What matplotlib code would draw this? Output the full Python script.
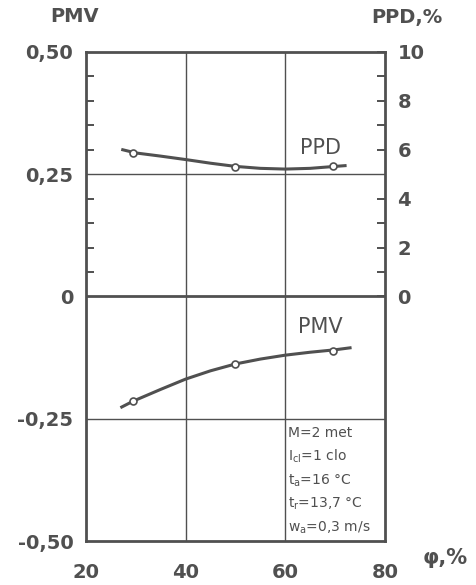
import numpy as np
import matplotlib.pyplot as plt
from matplotlib.ticker import FixedLocator

# measured points (relative humidity, %)
rh_points = [29.5, 50, 69.5]
pmv_points = [-0.214, -0.138, -0.111]
ppd_points = [5.87, 5.3, 5.35]

# faired curves
pmv_curve_x = [27.2, 29.5, 35, 40, 45, 50, 55, 60, 65, 70, 73]
pmv_curve_y = [-0.226, -0.214, -0.19, -0.169, -0.152, -0.138, -0.128, -0.12, -0.114, -0.109, -0.105]
ppd_curve_x = [27.4, 30, 35, 40, 45, 50, 55, 60, 65, 70, 72]
ppd_curve_y = [6.0, 5.87, 5.74, 5.6, 5.45, 5.32, 5.24, 5.21, 5.24, 5.32, 5.35]

pmv_ticks = [-0.5, -0.25, 0, 0.25, 0.5]
pmv_labels = ['-0,50', '-0,25', '0', '0,25', '0,50']
ppd_ticks = [0, 2, 4, 6, 8, 10]
x_ticks = [20, 40, 60, 80]

conditions = ['M=2 met',
              r'$\mathregular{I_{cl}}$=1 clo',
              r'$\mathregular{t_a}$=16 °C',
              r'$\mathregular{t_r}$=13,7 °C',
              r'$\mathregular{w_a}$=0,3 m/s']

ink = '#505050'
plt.rcParams['font.family'] = 'DejaVu Sans'

fig = plt.figure(figsize=(4.77, 5.85), dpi=100)
ax = fig.add_axes([0.180, 0.0752, 0.627, 0.836])

ax.set_xlim(20, 80)
ax.set_ylim(-0.5, 0.5)
for s in ax.spines.values():
    s.set_linewidth(2.0)
    s.set_color(ink)

ax.set_xticks(x_ticks)
ax.set_xticklabels([str(v) for v in x_ticks], fontsize=14, fontweight='bold', color=ink)
ax.set_yticks(pmv_ticks)
ax.set_yticklabels(pmv_labels, fontsize=14, fontweight='bold', color=ink)
ax.tick_params(axis='x', length=0, pad=16)
ax.tick_params(axis='y', which='major', length=0, pad=9)
ax.yaxis.set_minor_locator(FixedLocator([0.05, 0.1, 0.15, 0.2, 0.3, 0.35, 0.4, 0.45]))
ax.tick_params(axis='y', which='minor', direction='in', length=6, width=1.4, color=ink)

# grid
for gx in [40, 60]:
    ax.axvline(gx, color=ink, lw=1.0, zorder=1)
for gy in [-0.25, 0.25]:
    ax.axhline(gy, color=ink, lw=1.0, zorder=1)
ax.axhline(0, color=ink, lw=2.0, zorder=1)

# PPD on the right axis (0..10 covers the upper half)
ax2 = ax.twinx()
ax2.set_ylim(-10, 10)
ax2.set_yticks(ppd_ticks)
ax2.set_yticklabels([str(v) for v in ppd_ticks], fontsize=14, fontweight='bold', color=ink)
ax2.yaxis.set_minor_locator(FixedLocator([1, 3, 7, 9]))
ax2.tick_params(axis='y', which='both', direction='in', length=6, width=1.4, color=ink, pad=9)
for s in ax2.spines.values():
    s.set_visible(False)

ax.plot(pmv_curve_x, pmv_curve_y, color=ink, lw=2.2, zorder=3)
ax.plot(rh_points, pmv_points, 'o', ms=5, mfc='white', mec=ink, mew=1.2, zorder=4)
ax2.plot(ppd_curve_x, ppd_curve_y, color=ink, lw=2.2, zorder=3)
ax2.plot(rh_points, ppd_points, 'o', ms=5, mfc='white', mec=ink, mew=1.2, zorder=4)

ax.text(62.9, 0.304, 'PPD', fontsize=15, color=ink, va='center', ha='left')
ax.text(62.5, -0.062, 'PMV', fontsize=15, color=ink, va='center', ha='left')

for i, line in enumerate(conditions):
    ax.text(60.5, -0.279 - i * 0.0485, line, fontsize=10, color=ink,
            va='center', ha='left')

fig.text(75 / 477, 1 - 17 / 585, 'PMV', fontsize=14, fontweight='bold', color=ink,
         ha='center', va='center')
fig.text(407 / 477, 1 - 17 / 585, 'PPD,%', fontsize=14, fontweight='bold', color=ink,
         ha='center', va='center')
fig.text(445 / 477, 1 - 558 / 585, 'φ,%', fontsize=15, fontweight='bold', color=ink,
         ha='center', va='center')

fig.savefig('out.png', dpi=100)
